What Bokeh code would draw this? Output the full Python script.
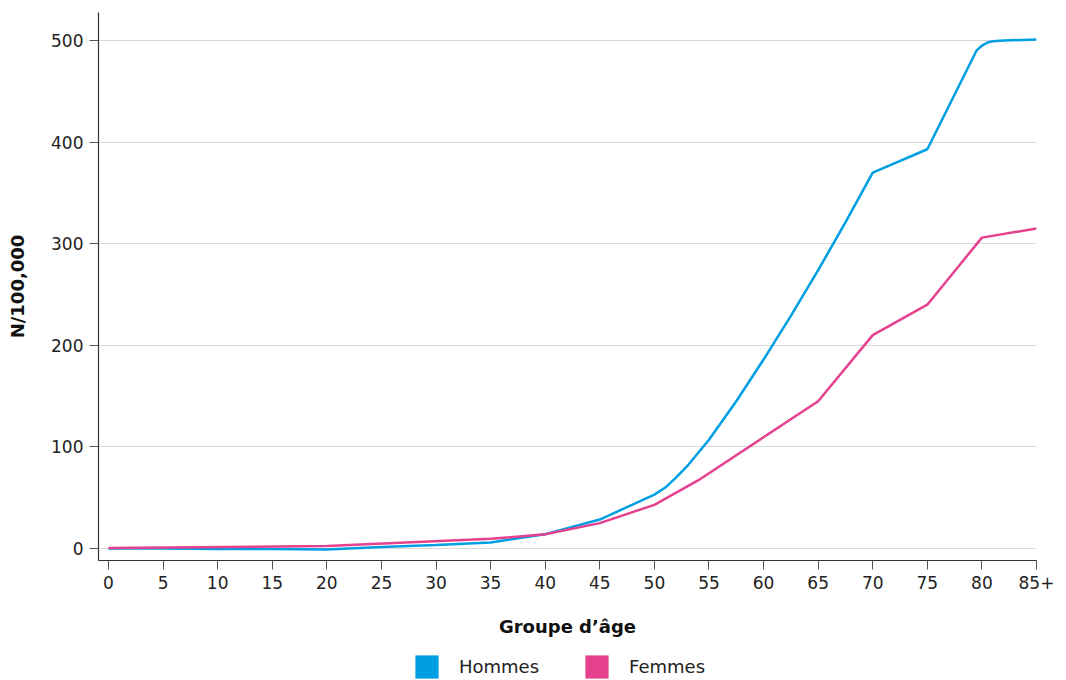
from bokeh.plotting import figure
from bokeh.models import Range1d, FixedTicker, Legend, LegendItem
from bokeh.layouts import column
from bokeh.embed import file_html
from bokeh.resources import INLINE

# Data
hommes_age = [0, 5, 10, 15, 20, 25, 30, 35, 40, 45, 50, 51, 52, 53, 54, 55, 57.5, 60, 62.5, 65, 67.5, 70, 75, 79.5, 80, 80.5, 81, 82, 85]
hommes_val = [0, 0, -0.5, -0.5, -1, 1.5, 3.5, 6, 14, 28.5, 53, 60, 70, 81, 94, 107, 145, 186, 229, 274, 321, 370, 393, 490, 495, 498, 499.3, 500, 501]
femmes_age = [0, 20, 35, 40, 45, 50, 54, 65, 70, 75, 80, 85]
femmes_val = [0.5, 2.5, 9.5, 14, 25, 43, 67, 145, 210, 240, 306, 315]
x_ticks = [0, 5, 10, 15, 20, 25, 30, 35, 40, 45, 50, 55, 60, 65, 70, 75, 80, 85]
x_tick_labels = {85: "85+"}
y_ticks = [0, 100, 200, 300, 400, 500]
series_names = ["Hommes", "Femmes"]

BLUE = "#009FE3"
PINK = "#E5418E"
FONT = "DejaVu Sans"
NAN = float("nan")

p = figure(width=1066, height=640,
           output_backend="svg", toolbar_location=None,
           x_range=Range1d(-0.916, 85), y_range=Range1d(-11.8, 527.6),
           min_border_left=98, min_border_top=12, min_border_right=30,
           min_border_bottom=80)
p.outline_line_color = None
p.background_fill_color = "white"

p.line(hommes_age, hommes_val, line_color=BLUE, line_width=2.5)
p.line(femmes_age, femmes_val, line_color=PINK, line_width=2.5)

p.xgrid.grid_line_color = None
p.ygrid.grid_line_color = "#d9d9d9"
p.ygrid.grid_line_width = 1

for ax in (p.xaxis[0], p.yaxis[0]):
    ax.axis_line_color = "#333333"
    ax.axis_line_width = 1.2
    ax.major_tick_line_color = "#555555"
    ax.major_tick_out = 9
    ax.major_tick_in = 0
    ax.minor_tick_line_color = None
    ax.major_label_text_font = FONT
    ax.major_label_text_font_size = "17px"
    ax.major_label_text_color = "#222222"
    ax.axis_label_text_font = FONT
    ax.axis_label_text_font_size = "18px"
    ax.axis_label_text_font_style = "bold"
    ax.axis_label_text_color = "#111111"

p.xaxis.ticker = FixedTicker(ticks=x_ticks)
p.xaxis.major_label_overrides = x_tick_labels
p.xaxis.axis_label = "Groupe d’âge"
p.xaxis.major_label_standoff = 6
p.xaxis.axis_label_standoff = 24
p.yaxis.ticker = FixedTicker(ticks=y_ticks)
p.yaxis.axis_label = "N/100,000"
p.yaxis.major_label_standoff = 6
p.yaxis.axis_label_standoff = 20

# legend strip below the chart
lg = figure(width=1066, height=40, output_backend="svg", toolbar_location=None,
            x_range=Range1d(0, 1), y_range=Range1d(0, 1),
            min_border_left=0, min_border_right=0, min_border_top=0, min_border_bottom=0)
lg.axis.visible = False
lg.grid.visible = False
lg.outline_line_color = None
sq_h = lg.quad(left=[NAN], right=[NAN], top=[NAN], bottom=[NAN], fill_color=BLUE, line_color=None)
sq_f = lg.quad(left=[NAN], right=[NAN], top=[NAN], bottom=[NAN], fill_color=PINK, line_color=None)

legend = Legend(items=[LegendItem(label=series_names[0], renderers=[sq_h]),
                       LegendItem(label=series_names[1], renderers=[sq_f])],
                orientation="horizontal", location=(314, -1),
                glyph_width=29, glyph_height=29, label_standoff=18, spacing=43,
                label_text_font=FONT, label_text_font_size="18px",
                label_text_color="#222222", border_line_color=None,
                padding=0, margin=0, background_fill_alpha=0)
lg.add_layout(legend, "center")

layout = column(p, lg, spacing=0)
open("out.html", "w").write(file_html(layout, INLINE))
